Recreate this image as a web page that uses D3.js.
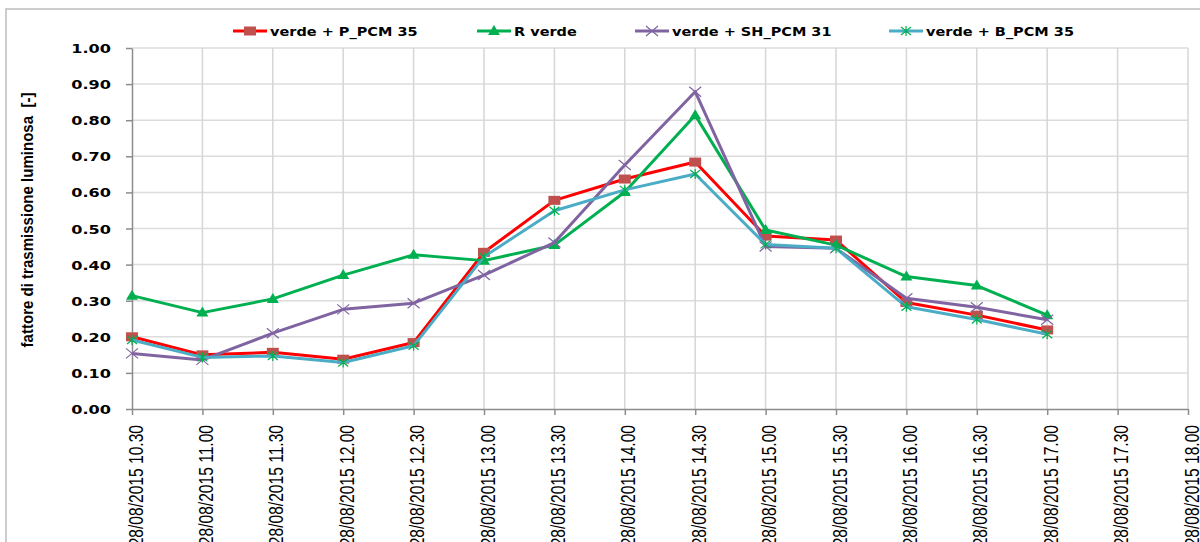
<!doctype html>
<html lang="it">
<head>
<meta charset="utf-8">
<title>fattore di trasmissione luminosa</title>
<style>
  body { margin: 0; background: #fff; }
  svg { display: block; }
</style>
</head>
<body>
<svg id="chart" width="1200" height="542"></svg>
<script src="https://d3js.org/d3.v7.min.js"></script>
<script>
// categories on the x axis (Excel date axis, every 30 min)
var times = ["28/08/2015 10.30", "28/08/2015 11.00", "28/08/2015 11.30", "28/08/2015 12.00",
  "28/08/2015 12.30", "28/08/2015 13.00", "28/08/2015 13.30", "28/08/2015 14.00",
  "28/08/2015 14.30", "28/08/2015 15.00", "28/08/2015 15.30", "28/08/2015 16.00",
  "28/08/2015 16.30", "28/08/2015 17.00", "28/08/2015 17.30", "28/08/2015 18.00"];

var pPcm35  = [0.200, 0.150, 0.157, 0.138, 0.184, 0.434, 0.578, 0.637, 0.684, 0.479, 0.468, 0.295, 0.260, 0.219];
var rVerde  = [0.314, 0.267, 0.305, 0.371, 0.427, 0.411, 0.454, 0.601, 0.814, 0.496, 0.454, 0.367, 0.342, 0.260];
var shPcm31 = [0.154, 0.136, 0.210, 0.276, 0.293, 0.371, 0.461, 0.676, 0.879, 0.450, 0.445, 0.307, 0.282, 0.247];
var bPcm35  = [0.191, 0.143, 0.147, 0.129, 0.175, 0.422, 0.549, 0.607, 0.651, 0.456, 0.445, 0.283, 0.248, 0.207];

var yTicks = [0, 0.1, 0.2, 0.3, 0.4, 0.5, 0.6, 0.7, 0.8, 0.9, 1.0];

var series = [
  { name: "verde + P_PCM 35",  values: pPcm35,  line: "#ff0000", mark: "square",   mcol: "#c0504d" },
  { name: "R verde",           values: rVerde,  line: "#00b050", mark: "triangle", mcol: "#00b050" },
  { name: "verde + SH_PCM 31", values: shPcm31, line: "#8064a2", mark: "cross",    mcol: "#8064a2" },
  { name: "verde + B_PCM 35",  values: bPcm35,  line: "#4bacc6", mark: "star",     mcol: "#00b050" }
];

var svg = d3.select("#chart");
// plot area edges ("top" is taken by window.top, so prefix them)
var plotL = 132, plotR = 1188, plotT = 48, plotB = 409;

var x = d3.scalePoint().domain(times).range([plotL, plotR]);
var y = d3.scaleLinear().domain([0, 1]).range([plotB, plotT]);

// outer chart frame
svg.append("path")
  .attr("d", "M6,542 V9 H1200")
  .attr("fill", "none").attr("stroke", "#bdbdbd").attr("stroke-width", 1.5);

// grid
svg.append("g").selectAll("line").data(yTicks.slice(1)).join("line")
  .attr("x1", plotL).attr("x2", plotR)
  .attr("y1", function (d) { return y(d); }).attr("y2", function (d) { return y(d); })
  .attr("stroke", "#dcdcdc").attr("stroke-width", 1.5);
svg.append("g").selectAll("line").data(times.slice(1)).join("line")
  .attr("x1", function (d) { return x(d); }).attr("x2", function (d) { return x(d); })
  .attr("y1", plotT).attr("y2", plotB)
  .attr("stroke", "#d6d6d6").attr("stroke-width", 1.5);

// y axis
var yAxis = svg.append("g").attr("transform", "translate(" + plotL + ",0)")
  .call(d3.axisLeft(y).tickValues(yTicks).tickSize(6).tickSizeOuter(0).tickFormat(d3.format(".2f")));
yAxis.select(".domain").attr("stroke", "#8c8c8c").attr("stroke-width", 1.5);
yAxis.selectAll(".tick line").attr("stroke", "#8c8c8c").attr("stroke-width", 1.5);
yAxis.selectAll(".tick text")
  .attr("x", null).attr("dy", null)
  .attr("transform", "translate(-21,4.5) scale(1.4,1)")
  .attr("text-anchor", "end")
  .style("font-family", "'DejaVu Sans', Verdana, sans-serif")
  .style("font-weight", "bold").style("font-size", "11.5px").attr("fill", "#000");

// x axis
var xAxis = svg.append("g").attr("transform", "translate(0," + plotB + ")")
  .call(d3.axisBottom(x).tickSize(6).tickSizeOuter(0));
xAxis.select(".domain").attr("stroke", "#8c8c8c").attr("stroke-width", 1.5);
xAxis.selectAll(".tick line").attr("stroke", "#8c8c8c").attr("stroke-width", 1.5);
xAxis.selectAll(".tick text")
  .attr("y", null).attr("dy", null)
  .attr("transform", "translate(10,16) rotate(-90) scale(0.8,1)")
  .attr("text-anchor", "end")
  .style("font-family", "'Liberation Sans', Arial, sans-serif")
  .style("font-size", "19.5px").attr("fill", "#000");

// y title
svg.append("text")
  .attr("transform", "translate(33,220) rotate(-90) scale(0.885,1)")
  .attr("text-anchor", "middle")
  .style("font-family", "'Liberation Sans', Arial, sans-serif")
  .style("font-weight", "bold").style("font-size", "17px")
  .style("white-space", "pre")
  .text("fattore di trasmissione luminosa  [-]");

function drawMarker(g, s, cx, cy) {
  if (s.mark === "square") {
    g.append("rect").attr("x", cx - 6).attr("y", cy - 4.5).attr("width", 12).attr("height", 9)
      .attr("fill", s.mcol);
  } else if (s.mark === "triangle") {
    g.append("path").attr("d", "M" + cx + "," + (cy - 6) + " L" + (cx + 6) + "," + (cy + 4) + " L" + (cx - 6) + "," + (cy + 4) + "Z")
      .attr("fill", s.mcol);
  } else if (s.mark === "cross") {
    g.append("path").attr("d", "M" + (cx - 6) + "," + (cy - 5) + " L" + (cx + 6) + "," + (cy + 5) +
      " M" + (cx - 6) + "," + (cy + 5) + " L" + (cx + 6) + "," + (cy - 5))
      .attr("stroke", s.mcol).attr("stroke-width", 1.2).attr("fill", "none");
  } else {
    g.append("path").attr("d", "M" + (cx - 5) + "," + (cy - 4) + " L" + (cx + 5) + "," + (cy + 4) +
      " M" + (cx - 5) + "," + (cy + 4) + " L" + (cx + 5) + "," + (cy - 4) +
      " M" + cx + "," + (cy - 5) + " L" + cx + "," + (cy + 5))
      .attr("stroke", s.mcol).attr("stroke-width", 1.2).attr("fill", "none");
  }
}

var line = d3.line()
  .x(function (d, i) { return x(times[i]); })
  .y(function (d) { return y(d); });

series.forEach(function (s) {
  var g = svg.append("g");
  g.append("path").datum(s.values).attr("d", line)
    .attr("fill", "none").attr("stroke", s.line).attr("stroke-width", 3)
    .attr("stroke-linejoin", "round");
  s.values.forEach(function (v, i) { drawMarker(g, s, x(times[i]), y(v)); });
});

// legend
var legendX = [233, 477, 635, 889];
series.forEach(function (s, i) {
  var g = svg.append("g").attr("transform", "translate(" + legendX[i] + ",31)");
  g.append("line").attr("x1", 0).attr("x2", 34).attr("y1", 0).attr("y2", 0)
    .attr("stroke", s.line).attr("stroke-width", 3);
  drawMarker(g, s, 17, 0);
  g.append("text").attr("transform", "translate(37,4.5) scale(1.26,1)")
    .style("font-family", "'DejaVu Sans', Verdana, sans-serif")
    .style("font-weight", "bold").style("font-size", "11.5px")
    .text(s.name);
});
</script>
</body>
</html>
